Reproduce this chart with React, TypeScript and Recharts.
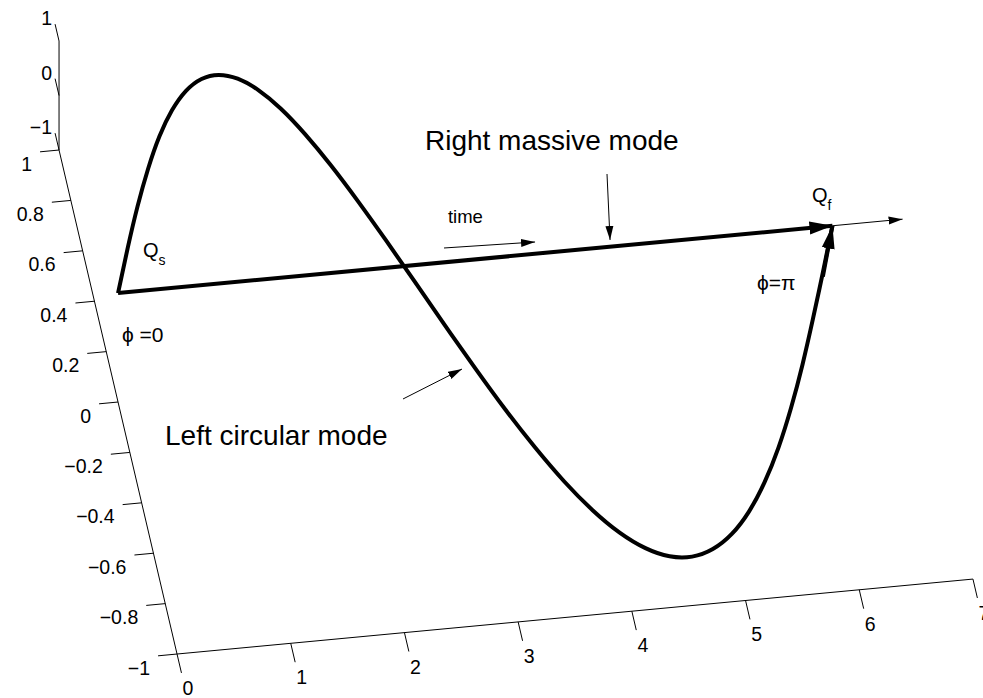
import { ComposedChart, XAxis, YAxis, Line, ReferenceLine, ReferenceDot } from 'recharts';

// helix traced by the left circular mode, sampled every 10 degrees of phase
const phase = [
  0, 0.175, 0.349, 0.524, 0.698, 0.873, 1.047, 1.222, 1.396, 1.571, 1.745, 1.92, 2.094, 2.269, 2.443, 2.618, 2.793,
  2.967, 3.142, 3.316, 3.491, 3.665, 3.84, 4.014, 4.189, 4.363, 4.538, 4.712, 4.887, 5.061, 5.236, 5.411, 5.585,
  5.76, 5.934, 6.109, 6.283,
];
const helixY = [
  0, 0.174, 0.342, 0.5, 0.643, 0.766, 0.866, 0.94, 0.985, 1, 0.985, 0.94, 0.866, 0.766, 0.643, 0.5, 0.342, 0.174, 0,
  -0.174, -0.342, -0.5, -0.643, -0.766, -0.866, -0.94, -0.985, -1, -0.985, -0.94, -0.866, -0.766, -0.643, -0.5,
  -0.342, -0.174, 0,
];
const helixZ = [
  1, 0.985, 0.94, 0.866, 0.766, 0.643, 0.5, 0.342, 0.174, 0, -0.174, -0.342, -0.5, -0.643, -0.766, -0.866, -0.94,
  -0.985, -1, -0.985, -0.94, -0.866, -0.766, -0.643, -0.5, -0.342, -0.174, 0, 0.174, 0.342, 0.5, 0.643, 0.766,
  0.866, 0.94, 0.985, 1,
];

// tail of the arrow drawn on the last stretch of the helix
const helixArrowTail = [6.1, -0.19, 0.98];

// time axis (right massive mode) along y = 0, z = 1
const timeAxisY = 0;
const timeAxisZ = 1;
const timeStart = 0;
const timeEnd = 6.283;
const timeArrowEnd = 6.9;

const xTicks = [0, 1, 2, 3, 4, 5, 6, 7];
const yTicks = [-1, -0.8, -0.6, -0.4, -0.2, 0, 0.2, 0.4, 0.6, 0.8, 1];
const zTicks = [-1, 0, 1];

// annotations in normalized figure units [u0, v0, u1, v1]
const timeNote = [0.4517, 0.6447, 0.5443, 0.6533];
const massiveNote = [0.6175, 0.7507, 0.6206, 0.6562];
const circularNote = [0.41, 0.4284, 0.47, 0.4713];

const W = 983;
const H = 698;

// orthographic view: unit steps along x, y, z in figure units
const ORIGIN = { u: 0.1801, v: 0.063 };
const EX = { u: 0.11567, v: 0.01534 };
const EY = { u: -0.06002, v: 0.36103 };
const EZ = { u: 0, v: 0.07808 };

type P = { u: number; v: number };

function project(x: number, y: number, z: number): P {
  return {
    u: ORIGIN.u + x * EX.u + (y + 1) * EY.u + (z + 1) * EZ.u,
    v: ORIGIN.v + x * EX.v + (y + 1) * EY.v + (z + 1) * EZ.v,
  };
}

const fmt = (n: number) => (n < 0 ? '\u2212' : '') + String(Math.abs(n));

const FONT = '"Liberation Sans", Arial, Helvetica, sans-serif';

function seg(key: string, a: P, b: P, width = 1, marker?: string) {
  return (
    <ReferenceLine
      key={key}
      segment={[{ x: a.u, y: a.v }, { x: b.u, y: b.v }]}
      stroke="#000"
      strokeWidth={width}
      ifOverflow="visible"
      markerEnd={marker ? `url(#${marker})` : undefined}
    />
  );
}

function label(key: string, at: P, content: React.ReactNode, dx: number, dy: number, anchor = 'start', size = 19.5) {
  return (
    <ReferenceDot
      key={key}
      x={at.u}
      y={at.v}
      r={1}
      ifOverflow="visible"
      shape={(p: any) => (
        <text x={p.cx + dx} y={p.cy + dy} textAnchor={anchor} fontFamily={FONT} fontSize={size} fill="#000">
          {content}
        </text>
      )}
    />
  );
}

export default function App() {
  const helix = phase.map((t, i) => project(t, helixY[i], helixZ[i]));
  const qs = project(timeStart, timeAxisY, timeAxisZ);
  const qf = project(timeEnd, timeAxisY, timeAxisZ);
  const tEnd = project(timeArrowEnd, timeAxisY, timeAxisZ);
  const tail = project(helixArrowTail[0], helixArrowTail[1], helixArrowTail[2]);
  const note = (n: number[]): [P, P] => [{ u: n[0], v: n[1] }, { u: n[2], v: n[3] }];

  return (
    <div style={{ position: 'absolute', left: 0, top: 0, width: W, height: H, background: '#fff' }}>
      <ComposedChart width={W} height={H} margin={{ top: 0, right: 0, bottom: 0, left: 0 }}>
        <defs>
          <marker id="headBig" markerUnits="userSpaceOnUse" markerWidth={24} markerHeight={14} viewBox="0 0 24 14" refX={23} refY={7} orient="auto">
            <path d="M0,0.5 L23,7 L0,13.5 z" fill="#000" />
          </marker>
          <marker id="headSmall" markerUnits="userSpaceOnUse" markerWidth={15} markerHeight={9} viewBox="0 0 15 9" refX={14} refY={4.5} orient="auto">
            <path d="M0,0.5 L14,4.5 L0,8.5 z" fill="#000" />
          </marker>
        </defs>
        <XAxis type="number" dataKey="u" domain={[0, 1]} hide allowDataOverflow />
        <YAxis type="number" dataKey="v" domain={[0, 1]} hide allowDataOverflow />

        {/* box axes */}
        {seg('xaxis', project(0, -1, -1), project(7, -1, -1))}
        {seg('yaxis', project(0, -1, -1), project(0, 1, -1))}
        {seg('zaxis', project(0, 1, -1), project(0, 1, 1))}
        {xTicks.map((x) => seg(`xt${x}`, project(x, -1, -1), project(x, -1.075, -1)))}
        {yTicks.map((y) => seg(`yt${y}`, project(0, y, -1), project(-0.167, y, -1)))}
        {zTicks.map((z) => seg(`zt${z}`, project(0, 1, z), project(0, 1.067, z)))}
        {xTicks.map((x) => label(`xl${x}`, project(x, -1, -1), fmt(x), 11, 41, 'middle'))}
        {yTicks.map((y) => label(`yl${y}`, project(0, y, -1), fmt(y), -27, 20.5, 'end'))}
        {zTicks.map((z) => label(`zl${z}`, project(0, 1, z), fmt(z), -7, -16, 'end'))}

        <Line
          data={helix}
          dataKey="v"
          type="natural"
          stroke="#000"
          strokeWidth={4}
          dot={false}
          activeDot={false}
          isAnimationActive={false}
        />
        {seg('helixEnd', tail, qf, 4, 'headBig')}
        {seg('timeThick', qs, qf, 4, 'headBig')}
        {seg('timeThin', qf, tEnd, 1, 'headSmall')}

        {seg('noteTime', ...note(timeNote), 1, 'headSmall')}
        {seg('noteMassive', ...note(massiveNote), 1, 'headSmall')}
        {seg('noteCircular', ...note(circularNote), 1, 'headSmall')}

        {label('txtMassive', { u: 0.4323, v: 0.7851 }, 'Right massive mode', 0, 0, 'start', 28)}
        {label('txtCircular', { u: 0.1679, v: 0.3625 }, 'Left circular mode', 0, 0, 'start', 28)}
        {label('txtTime', { u: 0.4557, v: 0.6805 }, 'time', 0, 0, 'start', 18.5)}
        {label(
          'txtQs',
          { u: 0.1455, v: 0.6318 },
          <>
            <tspan>Q</tspan>
            <tspan fontSize={14} dy={8}>s</tspan>
          </>,
          0,
          0,
          'start',
          20,
        )}
        {label(
          'txtQf',
          { u: 0.826, v: 0.7106 },
          <>
            <tspan>Q</tspan>
            <tspan fontSize={14} dy={8}>f</tspan>
          </>,
          0,
          0,
          'start',
          20,
        )}
        {label('txtPhi0', { u: 0.1241, v: 0.51 }, '\u03d5 =0', 0, 0, 'start', 21)}
        {label('txtPhiPi', { u: 0.7701, v: 0.5845 }, '\u03d5=\u03c0', 0, 0, 'start', 21)}
      </ComposedChart>
    </div>
  );
}
